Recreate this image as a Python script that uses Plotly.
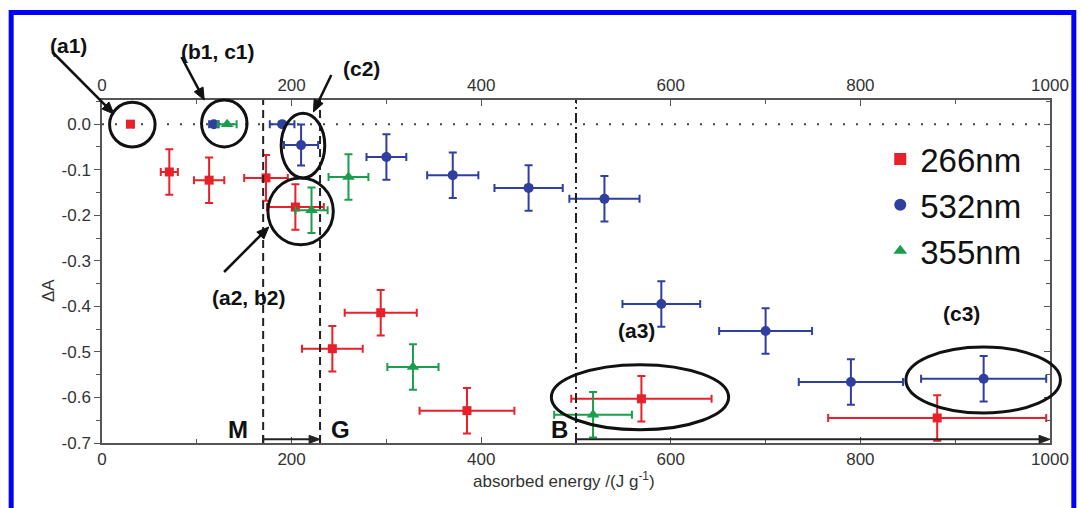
import math
import plotly.graph_objects as go

# ---------------- data ----------------
red_x = [30, 71, 113, 173, 204, 243, 294, 385, 569, 881]
red_y = [0.0, -0.105, -0.123, -0.118, -0.182, -0.493, -0.414, -0.629, -0.603, -0.645]
red_xerr = [3, 9, 16, 23, 30, 32, 38, 50, 74, 115]
red_yerr = [0.0, 0.05, 0.05, 0.05, 0.05, 0.05, 0.05, 0.05, 0.05, 0.05]

blue_x = [118, 190, 210, 300, 370, 450, 530, 590, 700, 790, 930]
blue_y = [0.0, 0.0, -0.046, -0.072, -0.112, -0.140, -0.164, -0.395, -0.454, -0.566, -0.559]
blue_xerr = [5, 13, 18, 21, 27, 36, 37, 41, 49, 55, 66]
blue_yerr = [0.0, 0.0, 0.045, 0.05, 0.05, 0.05, 0.05, 0.05, 0.05, 0.05, 0.05]

green_x = [132, 221, 260, 328, 518]
green_y = [0.0, -0.189, -0.116, -0.533, -0.638]
green_xerr = [10, 17, 21, 27, 41]
green_yerr = [0.0, 0.05, 0.05, 0.05, 0.05]

series_names = ["266nm", "532nm", "355nm"]
x_ticks = [0, 200, 400, 600, 800, 1000]
y_ticks = [0.0, -0.1, -0.2, -0.3, -0.4, -0.5, -0.6, -0.7]
y_tick_text = ["0.0", "-0.1", "-0.2", "-0.3", "-0.4", "-0.5", "-0.6", "-0.7"]

boundaries = {"M": 170, "G": 230, "B": 500}

# ellipses (data units): x0, x1, y0, y1
ellipses = [
    (8, 56, -0.050, 0.048),
    (105, 153, -0.050, 0.053),
    (189, 235, -0.118, 0.024),
    (175, 244, -0.265, -0.118),
    (474, 661, -0.671, -0.528),
    (848, 1011, -0.634, -0.489),
]

XR = [0, 1000]
YR = [-0.7, 0.053]

RED = "#e8202a"
BLUE = "#2f3fa0"
GREEN = "#1a9e4c"
AX = "#555555"
TXT = "#333333"
FONT = "Liberation Sans, Arial, sans-serif"

# plot area in pixels
L, R_, T, B_ = 102, 24, 100, 65
W, H = 1081, 508
PW, PH = W - L - R_, H - T - B_


def px(x):
    return (x - XR[0]) / (XR[1] - XR[0])


def py(y):
    return (y - YR[0]) / (YR[1] - YR[0])


def pxp(p):  # pixel x -> paper
    return (p - L) / PW


def pyp(p):  # pixel y -> paper
    return (H - B_ - p) / PH


def data_to_pix(x, y):
    return L + px(x) * PW, H - B_ - py(y) * PH


fig = go.Figure()


def add_series(xs, ys, xe, ye, color, symbol, size, name):
    fig.add_trace(go.Scatter(
        x=xs, y=ys, mode="markers", name=name,
        marker=dict(color=color, symbol=symbol, size=size, line=dict(width=0)),
        error_x=dict(type="data", array=xe, color=color, thickness=2, width=4),
        error_y=dict(type="data", array=ye, color=color, thickness=2, width=4),
    ))


add_series(red_x, red_y, red_xerr, red_yerr, RED, "square", 9, series_names[0])
add_series(blue_x, blue_y, blue_xerr, blue_yerr, BLUE, "circle", 10, series_names[1])
add_series(green_x, green_y, green_xerr, green_yerr, GREEN, "triangle-up", 11, series_names[2])

# invisible trace for mirrored top/right axes
fig.add_trace(go.Scatter(x=[XR[0]], y=[YR[0]], xaxis="x2", yaxis="y2",
                         mode="markers", marker=dict(opacity=0), showlegend=False,
                         hoverinfo="skip"))

shapes = []


def arrow_shapes(tail, head, color, width, hl=12, hw=5):
    """tail/head in pixels; returns line + filled triangle head in paper coords."""
    tx, ty = tail
    hx, hy = head
    d = math.hypot(hx - tx, hy - ty)
    ux, uy = (hx - tx) / d, (hy - ty) / d
    bx, by = hx - ux * hl, hy - uy * hl
    nx, ny = -uy, ux
    p1 = (bx + nx * hw, by + ny * hw)
    p2 = (bx - nx * hw, by - ny * hw)
    out = [dict(type="line", xref="paper", yref="paper",
                x0=pxp(tx), y0=pyp(ty), x1=pxp(bx + ux * 2), y1=pyp(by + uy * 2),
                line=dict(color=color, width=width))]
    path = "M %f,%f L %f,%f L %f,%f Z" % (pxp(hx), pyp(hy), pxp(p1[0]), pyp(p1[1]),
                                         pxp(p2[0]), pyp(p2[1]))
    out.append(dict(type="path", xref="paper", yref="paper", path=path,
                    fillcolor=color, line=dict(color=color, width=1)))
    return out


# dotted zero line
shapes.append(dict(type="line", xref="x", yref="y", x0=XR[0], x1=XR[1], y0=0, y1=0,
                   line=dict(color="#444444", width=2, dash="2px,11px"), layer="below"))
# boundary lines
for key, dash in [("M", "8px,5px"), ("G", "8px,5px"), ("B", "10px,4px,2px,4px")]:
    xv = boundaries[key]
    shapes.append(dict(type="line", xref="x", yref="y", x0=xv, x1=xv, y0=YR[0], y1=YR[1],
                       line=dict(color="#222222", width=2, dash=dash)))
# ellipses (paper coords so they can exceed the axes)
for (x0, x1, y0, y1) in ellipses:
    shapes.append(dict(type="circle", xref="paper", yref="paper",
                       x0=px(x0), x1=px(x1), y0=py(y0), y1=py(y1),
                       line=dict(color="#111111", width=3)))
# bottom arrows with start caps
arr_y = -0.692
for xv in [boundaries["M"], boundaries["G"], boundaries["B"]]:
    shapes.append(dict(type="line", xref="x", yref="y", x0=xv, x1=xv,
                       y0=arr_y - 0.008, y1=arr_y + 0.008,
                       line=dict(color="#222222", width=2)))
shapes += arrow_shapes(data_to_pix(boundaries["M"], arr_y), data_to_pix(boundaries["G"], arr_y),
                       "#222222", 2, hl=11, hw=4)
shapes += arrow_shapes(data_to_pix(boundaries["B"], arr_y), data_to_pix(XR[1], arr_y),
                       "#222222", 2, hl=11, hw=4)

# pointer arrows (pixels: tail, head)
arrows = [((52, 52), (114, 114)), ((182, 57), (205, 100)),
          ((333, 75), (315, 112)), ((225, 272), (270, 227))]
for tail, head in arrows:
    shapes += arrow_shapes(tail, head, "#111111", 2.5, hl=12, hw=5)

# blue frame around figure
shapes.append(dict(type="rect", xref="paper", yref="paper",
                   x0=pxp(10.5), x1=pxp(1081),
                   y0=pyp(530), y1=pyp(12.5),
                   line=dict(color="#0000ff", width=5)))

annotations = []
# M, G, B labels
for key, xl in [("M", 143), ("G", 252), ("B", 483)]:
    annotations.append(dict(x=xl, y=-0.671, xref="x", yref="y", text="<b>%s</b>" % key,
                            showarrow=False, font=dict(family=FONT, size=24, color="#111111")))

labels = [("(a1)", 48, 32), ("(b1, c1)", 180, 38), ("(c2)", 343, 55),
          ("(a2, b2)", 211, 297), ("(a3)", 640, 344), ("(c3)", 989, 313)]
for t, lx, ly in labels:
    annotations.append(dict(x=pxp(lx), y=pyp(ly), xref="paper", yref="paper",
                            text="<b>%s</b>" % t, showarrow=False,
                            font=dict(family=FONT, size=21, color="#111111")))

# axis titles
annotations.append(dict(x=pxp(36), y=pyp(290), xref="paper", yref="paper", text="ΔA",
                        textangle=-90, showarrow=False,
                        font=dict(family=FONT, size=17, color=TXT)))
annotations.append(dict(x=pxp(567), y=pyp(493), xref="paper", yref="paper",
                        text="absorbed energy /(J g<sup>-1</sup>)", showarrow=False,
                        font=dict(family=FONT, size=17, color=TXT)))

fig.update_layout(
    width=W, height=H,
    margin=dict(l=L, r=R_, t=T, b=B_),
    paper_bgcolor="white", plot_bgcolor="white",
    font=dict(family=FONT, size=17, color=TXT),
    showlegend=True,
    legend=dict(x=pxp(886), y=pyp(131), xanchor="left", yanchor="top",
                font=dict(family=FONT, size=33, color="#111111"),
                bgcolor="rgba(0,0,0,0)", itemsizing="constant", tracegroupgap=0),
    xaxis=dict(range=XR, tickvals=x_ticks, ticks="inside", ticklen=6, tickcolor=AX,
               showline=True, linecolor=AX, linewidth=1.5, showgrid=False, zeroline=False,
               tickfont=dict(size=17, color=TXT),
               minor=dict(dtick=100, ticks="inside", ticklen=4, tickcolor=AX)),
    xaxis2=dict(range=XR, tickvals=x_ticks, overlaying="x", side="top", anchor="y2",
                ticks="inside", ticklen=6, tickcolor=AX, showline=True, linecolor=AX,
                linewidth=1.5, showgrid=False, zeroline=False,
                tickfont=dict(size=17, color=TXT),
                minor=dict(dtick=100, ticks="inside", ticklen=4, tickcolor=AX)),
    yaxis=dict(range=YR, tickvals=y_ticks, ticktext=y_tick_text, ticks="outside",
               ticklen=6, tickcolor=AX, showline=True, linecolor=AX, linewidth=1.5,
               showgrid=False, zeroline=False, tickfont=dict(size=17, color=TXT),
               minor=dict(tick0=0, dtick=0.05, ticks="outside", ticklen=4, tickcolor=AX)),
    yaxis2=dict(range=YR, tickvals=y_ticks, overlaying="y", side="right", anchor="x2",
                ticks="inside", ticklen=6, tickcolor=AX, showline=True, linecolor=AX,
                linewidth=1.5, showgrid=False, zeroline=False, showticklabels=False,
                minor=dict(tick0=0, dtick=0.05, ticks="inside", ticklen=4, tickcolor=AX)),
    shapes=shapes,
    annotations=annotations,
)

fig.write_html("out.html", config={"displayModeBar": False},
               post_script="document.body.style.margin='0';document.body.style.overflow='hidden';")
